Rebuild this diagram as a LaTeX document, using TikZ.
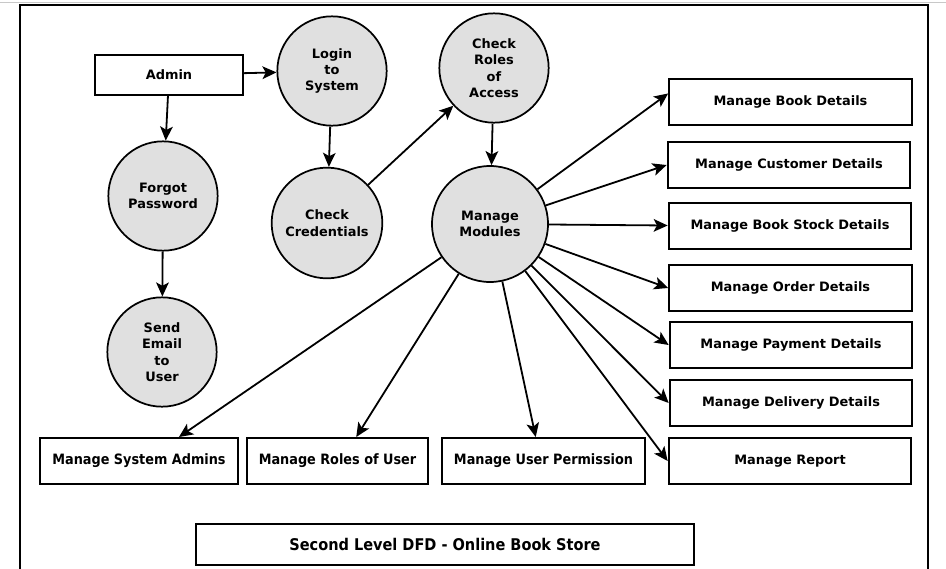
\documentclass[tikz,border=0pt]{standalone}
\usepackage{fontspec}
\setmainfont{DejaVu Sans}
\newfontfamily\condfont{DejaVu Sans Condensed}
\usetikzlibrary{arrows.meta}

\definecolor{procfill}{RGB}{224,224,224}

\tikzset{every picture/.style={line width=0.75pt}}
\tikzset{
	process/.style={circle, draw, line width=1.3pt, fill=procfill, minimum size=82pt, inner sep=0pt, align=center, font=\bfseries\fontsize{9.7}{12.3}\selectfont},
	entity/.style={rectangle, draw, line width=1.5pt, minimum height=34.5pt, inner sep=0pt, font=\bfseries\fontsize{9.7}{12}\selectfont},
	module/.style={entity, minimum width=182pt},
	lowmodule/.style={entity, font=\condfont\bfseries\fontsize{10.7}{12}\selectfont},
	flow/.style={-{Stealth[length=10.5pt,width=9.5pt,inset=2.5pt]}, line width=1.35pt}}

\begin{document}
\begin{tikzpicture}[x=0.75pt,y=0.75pt,yscale=-1,xscale=1]
	\useasboundingbox (0,0) rectangle (946,568);

	%Shape: Frame
	\draw [color={rgb, 255:red, 200; green, 200; blue, 200 }, line width=0.75pt] (0,2) -- (946,2) ;
	\draw [line width=1.5pt] (20,572) -- (20,5) -- (928,5) -- (928,572) ;

	%Shape: Rectangle [Admin]
	\node [entity, minimum width=111pt, minimum height=30pt] (admin) at (169,75) {Admin};

	%Shape: Circle [processes]
	\node [process] (login) at (332,71) {Login\\to\\System};
	\node [process] (forgot) at (163,196) {Forgot\\Password};
	\node [process] (sendmail) at (162,352) {Send\\Email\\to\\User};
	\node [process, minimum size=83pt] (checkcred) at (327,223) {Check\\Credentials};
	\node [process] (checkroles) at (494,68) {Check\\Roles\\of\\Access};
	\node [process, minimum size=87pt] (modules) at (490,224) {Manage\\Modules};

	%Shape: Rectangle [right column]
	\node [module] (bookdet) at (790.5,102) {Manage Book Details};
	\node [module] (custdet) at (789,165) {Manage Customer Details};
	\node [module] (stockdet) at (790,225.5) {Manage Book Stock Details};
	\node [module] (orderdet) at (790.5,288) {Manage Order Details};
	\node [module] (paydet) at (791,345) {Manage Payment Details};
	\node [module] (deliverydet) at (791,403) {Manage Delivery Details};
	\node [module] (report) at (790,461) {Manage Report};

	%Shape: Rectangle [bottom row]
	\node [lowmodule, minimum width=148.5pt] (sysadmins) at (139,461) {Manage System Admins};
	\node [lowmodule, minimum width=135.75pt] (userroles) at (337.5,461) {Manage Roles of User};
	\node [lowmodule, minimum width=152.25pt] (permission) at (543.5,461) {Manage User Permission};

	%Shape: Rectangle [title]
	\node [entity, minimum width=373.5pt, minimum height=30.75pt, font=\condfont\bfseries\fontsize{12.1}{14}\selectfont] (title) at (445,544.5) {Second Level DFD - Online Book Store};

	%Straight Lines [flows]
	\draw [flow] (admin) -- (login) ;
	\draw [flow] (admin) -- (forgot) ;
	\draw [flow] (forgot) -- (sendmail) ;
	\draw [flow] (login) -- (checkcred) ;
	\draw [flow] (checkcred) -- (checkroles) ;
	\draw [flow] (checkroles) -- (modules) ;

	\draw [flow] (modules) -- (bookdet.176) ;
	\draw [flow] (modules) -- (custdet.west) ;
	\draw [flow] (modules) -- (stockdet.west) ;
	\draw [flow] (modules) -- (orderdet.west) ;
	\draw [flow] (modules) -- (paydet.west) ;
	\draw [flow] (modules) -- (deliverydet.west) ;
	\draw [flow] (modules) -- (report.west) ;

	\draw [flow] (modules) -- (permission.108) ;
	\draw [flow] (modules) -- (userroles.52) ;
	\draw [flow] (modules) -- (sysadmins.31) ;

\end{tikzpicture}
\end{document}
